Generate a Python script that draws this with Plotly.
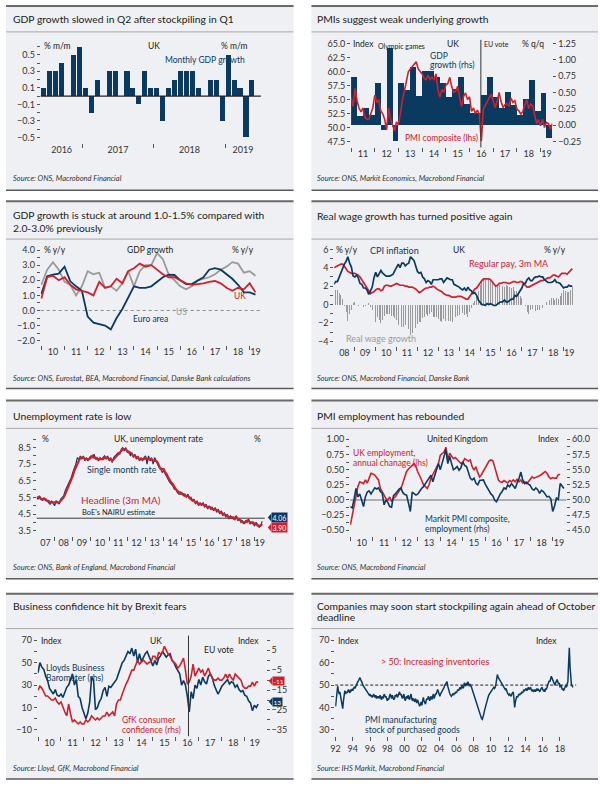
import plotly.graph_objects as go

# ======================= DATA =======================
# Panel 1: UK monthly GDP growth (% m/m), Jun 2016 - Jun 2019
gdp_mm_start = (2016, 6)
gdp_mm = [0.1, 0.3, 0.3, 0.4, 0.0, 0.5, 0.6, 0.1, -0.2, 0.2, 0.0, 0.3, 0.3, 0.0, 0.3, 0.1,
          -0.1, 0.3, 0.1, 0.1, -0.3, 0.1, 0.2, 0.3, 0.3, 0.3, 0.1, 0.0, 0.2, 0.2, -0.3, 0.5,
          0.2, 0.1, -0.5, 0.2, 0.0]

# Panel 2: UK GDP growth % q/q (rhs), 2011Q1 - 2019Q2 ; PMI composite (lhs), Jan 2011 - Jul 2019
gdp_qq_start = (2011, 1)
gdp_qq = [0.74, 0.14, 0.26, 0.15, 0.64, -0.07, 1.18, -0.24, 0.64, 0.54, 0.89, 0.45,
          0.83, 0.83, 0.74, 0.65, 0.43, 0.55, 0.74, 0.32, 0.18, 0.18, 0.46, 0.74,
          0.43, 0.26, 0.51, 0.30, 0.15, 0.40, 0.69, 0.22, 0.49, -0.19]
pmi_comp_start = (2011, 1)
pmi_comp = [55.5, 53.8, 57.0, 54.8, 53.5, 52.8, 53.5, 51.8, 51.5, 51.5, 52.5, 53.5,
            55.8, 54.5, 55.0, 53.0, 52.5, 51.5, 49.6, 53.5, 51.5, 50.3, 49.4, 51.0,
            50.5, 52.5, 55.0, 56.5, 58.5, 60.0, 60.5, 61.0, 61.5, 61.8, 60.5, 60.0,
            59.6, 58.8, 58.6, 59.4, 58.6, 59.0, 58.6, 59.6, 56.8, 55.4, 56.8, 56.3,
            57.6, 57.9, 59.0, 57.3, 56.3, 56.5, 57.4, 55.4, 53.8, 55.6, 56.2, 55.0,
            55.5, 52.9, 53.5, 52.5, 53.1, 52.4, 47.6, 53.3, 53.9, 54.7, 55.3, 56.0,
            55.0, 53.6, 54.6, 56.3, 54.6, 53.6, 54.1, 54.3, 53.8, 55.3, 54.5, 54.8,
            53.3, 53.0, 52.4, 52.9, 54.0, 55.0, 53.4, 54.2, 53.9, 52.1, 50.7, 51.4,
            50.3, 51.5, 50.0, 50.9, 50.7, 49.7, 50.7]
eu_vote = 2016.48

# Panel 3: GDP growth % y/y, 2010Q1 - 2019Q2
gdp_yy_start = (2010, 1)
gdp_yy_uk = [0.8, 2.2, 2.3, 2.0, 2.2, 1.7, 1.4, 1.3, 1.2, 1.0, 1.9, 1.5, 1.6, 2.1, 1.8, 2.6,
             2.8, 3.1, 2.9, 3.0, 2.7, 2.4, 2.2, 2.2, 2.0, 1.8, 1.7, 1.75, 1.8, 1.9, 1.95, 1.8,
             1.5, 1.3, 1.5, 1.4, 1.8, 1.2]
gdp_yy_ea = [1.1, 2.26, 2.37, 2.44, 2.9, 1.93, 1.6, 1.3, -0.4, -0.8, -0.9, -1.0, -1.25, -0.5,
             0.1, 0.8, 1.6, 1.5, 1.5, 1.6, 1.9, 2.2, 2.37, 2.35, 2.0, 1.75, 1.75, 1.95, 2.2,
             2.7, 2.8, 2.7, 2.4, 2.1, 1.7, 1.2, 1.2, 1.05]
gdp_yy_us = [1.7, 2.7, 3.2, 2.7, 1.9, 1.7, 1.0, 1.6, 2.6, 2.4, 2.5, 1.5, 1.6, 1.3, 1.8, 2.6,
             1.6, 2.6, 3.0, 3.0, 3.8, 3.4, 2.4, 2.0, 1.6, 1.4, 1.6, 2.0, 2.1, 2.2, 2.4, 2.7,
             2.9, 3.2, 3.1, 2.5, 2.6, 2.3]

# Panel 4: UK CPI, regular pay (3m MA), real wage growth, % y/y, Jan 2008 - Jun 2019
wage_start = (2008, 1)
cpi = [2.2, 2.5, 2.5, 3.0, 3.3, 3.8, 4.4, 4.7, 5.2, 4.5, 4.1, 3.1,
       3.0, 3.2, 2.9, 2.3, 2.2, 1.8, 1.8, 1.6, 1.1, 1.5, 1.9, 2.9,
       3.5, 3.0, 3.4, 3.7, 3.4, 3.2, 3.1, 3.1, 3.1, 3.2, 3.3, 3.7,
       4.0, 4.4, 4.0, 4.5, 4.5, 4.2, 4.4, 4.5, 5.2, 5.0, 4.8, 4.2,
       3.6, 3.4, 3.5, 3.0, 2.8, 2.4, 2.6, 2.5, 2.2, 2.7, 2.7, 2.7,
       2.7, 2.8, 2.8, 2.4, 2.7, 2.9, 2.8, 2.7, 2.7, 2.2, 2.1, 2.0,
       1.9, 1.7, 1.6, 1.8, 1.5, 1.9, 1.6, 1.5, 1.2, 1.3, 1.0, 0.5,
       0.3, 0.0, 0.0, -0.1, 0.1, 0.0, 0.1, 0.0, -0.1, -0.1, 0.1, 0.2,
       0.3, 0.3, 0.5, 0.3, 0.3, 0.5, 0.6, 0.6, 1.0, 0.9, 1.2, 1.6,
       1.8, 2.3, 2.3, 2.7, 2.9, 2.6, 2.6, 2.9, 3.0, 3.0, 3.1, 3.0,
       3.0, 2.7, 2.5, 2.4, 2.4, 2.4, 2.5, 2.7, 2.4, 2.4, 2.3, 2.1,
       1.8, 1.9, 1.9, 2.1, 2.0, 2.0]
regular_pay = [4.0, 4.1, 4.2, 4.3, 4.4, 4.4, 4.2, 3.9, 3.6, 3.5, 3.4, 3.4,
               3.4, 3.3, 3.2, 3.0, 2.7, 2.4, 2.2, 1.9, 1.5, 1.2, 1.3, 1.4,
               1.6, 1.7, 1.7, 1.5, 1.6, 2.0, 2.1, 2.1, 2.0, 2.0, 2.1, 2.2,
               2.3, 2.2, 2.1, 2.1, 2.1, 2.0, 2.0, 1.9, 1.9, 1.9, 1.8, 1.7,
               1.5, 1.3, 1.4, 1.6, 1.7, 1.8, 1.8, 1.9, 1.9, 2.0, 1.9, 1.7,
               1.6, 1.5, 1.4, 1.2, 1.1, 1.0, 1.0, 0.9, 0.8, 0.8, 0.8, 0.9,
               0.9, 0.9, 0.8, 0.7, 0.6, 0.6, 0.9, 1.2, 1.5, 1.7, 1.8, 2.1,
               2.4, 2.6, 2.8, 2.8, 2.8, 2.8, 2.7, 2.5, 2.2, 2.0, 2.1, 2.3,
               2.3, 2.4, 2.4, 2.4, 2.3, 2.3, 2.4, 2.5, 2.5, 2.4, 2.4, 2.5,
               2.5, 2.3, 2.1, 1.9, 1.9, 2.0, 2.1, 2.2, 2.3, 2.4, 2.5, 2.6,
               2.6, 2.7, 2.8, 2.9, 2.9, 3.1, 3.2, 3.2, 3.1, 3.0, 3.2, 3.4,
               3.4, 3.4, 3.3, 3.5, 3.6, 3.9]
real_wage = [1.8, 1.6, 1.6, 1.3, 1.0, 0.6, -0.2, -0.8, -1.8, -1.0, -0.6, 0.2,
             0.3, 0.0, -0.2, 0.1, -0.1, -0.3, -0.2, 0.2, 0.2, -0.3, -0.6, -1.5,
             -1.9, -1.3, -1.7, -2.0, -1.7, -1.2, -1.0, -1.0, -1.0, -1.2, -1.2, -1.5,
             -1.7, -2.2, -1.9, -2.4, -2.4, -2.2, -2.4, -2.6, -3.3, -3.1, -3.0, -2.5,
             -2.1, -1.9, -1.9, -1.5, -1.3, -1.0, -1.2, -1.0, -0.8, -1.3, -1.3, -1.4,
             -1.6, -1.8, -1.9, -1.6, -1.8, -2.0, -1.8, -1.8, -1.9, -1.4, -1.3, -1.2,
             -1.1, -0.9, -0.9, -1.1, -1.0, -1.4, -0.8, -0.4, 0.2, 0.4, 0.8, 1.5,
             2.1, 2.6, 2.8, 2.9, 2.7, 2.8, 2.6, 2.5, 2.3, 2.1, 2.0, 2.1,
             2.0, 2.0, 1.9, 2.1, 2.0, 1.9, 1.8, 1.9, 1.5, 1.5, 1.2, 0.9,
             0.7, 0.0, -0.2, -0.8, -1.0, -0.6, -0.5, -0.7, -0.7, -0.6, -0.6, -0.4,
             -0.4, 0.0, 0.3, 0.5, 0.5, 0.7, 0.7, 0.5, 0.7, 0.6, 0.9, 1.3,
             1.6, 1.5, 1.4, 1.4, 1.6, 1.9]

# Panel 5: UK unemployment rate %, Jan 2007 - Jun 2019
unemp_start = (2007, 1)
unemp_headline = [5.5, 5.5, 5.5, 5.4, 5.4, 5.4, 5.4, 5.3, 5.3, 5.2, 5.2, 5.2,
                  5.2, 5.2, 5.2, 5.2, 5.3, 5.4, 5.5, 5.7, 5.9, 6.1, 6.3, 6.5,
                  6.8, 7.1, 7.3, 7.6, 7.8, 7.9, 7.9, 7.9, 7.8, 7.8, 7.8, 7.8,
                  7.9, 8.0, 7.9, 7.9, 7.8, 7.8, 7.8, 7.8, 7.8, 7.9, 7.9, 7.9,
                  7.8, 7.8, 7.7, 7.8, 7.9, 8.0, 8.1, 8.2, 8.3, 8.4, 8.4, 8.4,
                  8.3, 8.2, 8.2, 8.1, 8.0, 8.0, 7.9, 7.9, 7.8, 7.8, 7.8, 7.8,
                  7.9, 7.8, 7.8, 7.8, 7.8, 7.7, 7.7, 7.7, 7.6, 7.4, 7.2, 7.2,
                  7.2, 7.0, 6.9, 6.7, 6.5, 6.4, 6.3, 6.1, 6.0, 5.9, 5.8, 5.8,
                  5.7, 5.7, 5.6, 5.6, 5.6, 5.5, 5.4, 5.3, 5.3, 5.2, 5.2, 5.1,
                  5.1, 5.1, 5.1, 5.0, 5.0, 4.9, 4.9, 4.9, 4.8, 4.8, 4.8, 4.7,
                  4.7, 4.6, 4.6, 4.5, 4.5, 4.4, 4.4, 4.3, 4.3, 4.3, 4.3, 4.2,
                  4.3, 4.2, 4.2, 4.1, 4.0, 4.0, 4.0, 4.1, 4.1, 4.0, 4.0, 4.0,
                  3.9, 3.9, 3.8, 3.8, 3.8, 3.9]
unemp_single = [5.5, 5.4, 5.6, 5.4, 5.3, 5.5, 5.3, 5.3, 5.2, 5.1, 5.3, 5.1,
                5.0, 5.3, 5.2, 5.1, 5.4, 5.5, 5.6, 5.9, 6.1, 6.2, 6.4, 6.7,
                7.0, 7.2, 7.5, 7.9, 7.8, 8.0, 7.8, 8.0, 7.7, 7.9, 7.7, 7.9,
                8.0, 7.9, 8.1, 7.8, 7.9, 7.7, 7.9, 7.8, 7.9, 8.0, 7.8, 8.0,
                7.7, 7.9, 7.6, 7.9, 8.0, 8.1, 8.2, 8.1, 8.4, 8.5, 8.3, 8.5,
                8.2, 8.3, 8.0, 8.2, 7.9, 8.1, 7.8, 8.0, 7.7, 7.9, 7.7, 7.9,
                8.0, 7.5, 8.0, 7.7, 7.9, 7.5, 7.9, 7.7, 7.5, 7.3, 7.3, 7.0,
                7.1, 6.9, 6.8, 6.6, 6.4, 6.3, 6.2, 6.0, 6.0, 5.8, 5.7, 5.7,
                5.8, 5.6, 5.7, 5.5, 5.7, 5.4, 5.5, 5.3, 5.4, 5.1, 5.3, 5.0,
                5.2, 5.0, 5.2, 4.9, 5.1, 4.8, 5.0, 4.8, 4.9, 4.7, 4.9, 4.6,
                4.8, 4.5, 4.7, 4.4, 4.6, 4.3, 4.5, 4.2, 4.4, 4.3, 4.2, 4.3,
                4.4, 4.1, 4.2, 4.0, 4.1, 3.9, 4.1, 4.0, 4.2, 3.9, 4.0, 3.9,
                3.8, 4.0, 3.8, 3.7, 3.8, 4.06]
nairu = 4.25
unemp_last_labels = ["4.06", "3.90"]

# Panel 6: UK employment annual change (lhs), Jan 2010 - May 2019; PMI employment (rhs), Jan 2010 - Jul 2019
emp_start = (2010, 1)
emp_change = [-0.41, -0.25, -0.08, 0.1, 0.22, 0.30, 0.29, 0.27, 0.33, 0.28, 0.36, 0.44,
              0.43, 0.41, 0.37, 0.33, 0.19, 0.12, 0.08, 0.02, 0.0, 0.05, -0.03, 0.03,
              0.05, 0.1, 0.15, 0.19, 0.28, 0.38, 0.47, 0.51, 0.55, 0.57, 0.6, 0.55,
              0.46, 0.4, 0.33, 0.25, 0.22, 0.19, 0.25, 0.36, 0.42, 0.49, 0.55, 0.6,
              0.74, 0.76, 0.79, 0.87, 0.66, 0.77, 0.72, 0.68, 0.7, 0.66, 0.62, 0.6,
              0.62, 0.68, 0.66, 0.64, 0.66, 0.55, 0.49, 0.55, 0.45, 0.38, 0.42, 0.48,
              0.52, 0.58, 0.64, 0.66, 0.65, 0.55, 0.42, 0.33, 0.3, 0.29, 0.32, 0.3,
              0.28, 0.32, 0.3, 0.33, 0.3, 0.34, 0.3, 0.33, 0.28, 0.3, 0.27, 0.3,
              0.34, 0.38, 0.36, 0.37, 0.38, 0.4, 0.42, 0.45, 0.47, 0.44, 0.38, 0.35,
              0.37, 0.36, 0.36, 0.42, 0.42]
pmi_emp = [48.9, 48.7, 50.2, 51.9, 50.5, 51.0, 50.0, 48.9, 50.5, 51.3, 51.5, 51.0,
           51.5, 52.0, 51.8, 52.0, 51.4, 51.1, 49.2, 50.0, 49.6, 48.9, 48.8, 50.7,
           51.0, 51.5, 51.8, 52.0, 51.2, 50.9, 50.8, 49.5, 48.1, 51.3, 51.0, 50.8,
           51.0, 51.5, 51.9, 52.2, 52.7, 53.0, 53.5, 54.1, 53.0, 54.0, 55.2, 56.0,
           55.0, 56.2, 57.0, 58.3, 56.0, 57.2, 56.0, 55.0, 55.2, 55.5, 54.9, 55.3,
           56.3, 55.7, 55.5, 54.4, 53.6, 53.3, 53.6, 52.8, 52.5, 53.2, 53.3, 53.3,
           52.6, 52.0, 51.4, 51.0, 50.7, 50.0, 49.7, 50.4, 51.0, 51.4, 52.0, 51.8,
           52.5, 52.2, 52.7, 52.3, 51.9, 52.8, 53.5, 54.6, 53.3, 52.7, 52.9, 52.6,
           52.4, 51.8, 51.6, 52.0, 51.7, 51.1, 51.6, 51.4, 51.0, 50.5, 50.6, 50.2,
           48.1, 49.0, 50.3, 50.1, 52.7, 52.3, 51.9]

# Panel 7: Lloyds Business Barometer (lhs) and GfK consumer confidence (rhs), Jan 2010 - Aug 2019
conf_start = (2010, 1)
lloyds = [41, 50, 46, 44, 38, 34, 27, 25, 22, 26, 21, 20,
          22, 19, 23, 28, 30, 36, 40, 30, 35, 20, 18, 10,
          5, 0, 5, 15, 37, 34, 8, 10, 15, 18, 25, 28,
          20, 29, 28, 30, 32, 35, 40, 45, 50, 52, 57, 60,
          58, 63, 56, 62, 50, 58, 51, 55, 58, 60, 55, 51,
          47, 52, 48, 54, 56, 60, 58, 55, 57, 58, 52, 50,
          46, 43, 40, 30, 34, 30, 20, 6, 24, 18, 30, 27,
          35, 30, 37, 33, 31, 38, 40, 37, 30, 26, 22, 25,
          29, 31, 33, 35, 31, 33, 32, 28, 30, 26, 24, 25,
          21, 20, 16, 14, 7, 12, 10, 13]
gfk = [-15, -13, -14, -16, -18, -18, -19, -20, -20, -19, -21, -22,
       -21, -24, -26, -28, -22, -27, -31, -30, -31, -32, -31, -32,
       -32, -30, -31, -30, -28, -29, -30, -29, -30, -29, -28, -28,
       -26, -28, -27, -26, -28, -22, -20, -20, -17, -14, -12, -10,
       -7, -5, -5, -2, 0, -2, -1, 0, -1, -2, -1, -1,
       2, 2, 0, 4, 3, 4, 7, 5, 3, 2, 0, -1,
       -2, -4, -3, -1, 1, -5, -12, -11, -8, -2, -8, -6,
       -4, -6, -5, -8, -6, -4, -7, -9, -10, -10, -9, -10,
       -10, -9, -7, -9, -7, -9, -10, -7, -8, -9, -10, -13,
       -14, -14, -13, -13, -11, -13, -11, -11]
conf_last_labels = ["-11", "13"]

# Panel 8: PMI manufacturing stocks of purchases, Jan 1992 - Jul 2019
stock_start = (1992, 1)
pmi_stocks = [40.5, 44, 47, 49.5, 47.5, 46, 47, 45, 43, 41, 39.5, 43,
              46, 47.5, 46, 47, 46.5, 47.5, 48, 47, 46.5, 48, 47.5, 48,
              47.5, 48.5, 49, 48.5, 49.5, 50, 51, 51.5, 52, 52.5, 53.3, 52.5,
              52, 51, 50, 49.5, 49, 48.5, 48, 47.5, 47, 46.5, 46, 45.5,
              46, 45, 45.5, 44.5, 45, 46, 45, 44.5, 45.5, 44, 45, 44.5,
              45, 44, 45.5, 44.5, 43.5, 45, 44, 45.5, 46, 44.5, 45, 44,
              43, 44, 43.5, 45, 46, 45, 44, 45.5, 44.5, 43.5, 44, 45.5,
              45, 46, 44.5, 45.5, 46, 47, 45.5, 46, 45, 44, 45, 46,
              44, 43, 44.5, 45, 44, 45.5, 44, 43.5, 45, 46, 44, 43,
              44, 43, 42.5, 44, 43, 42, 43.5, 42, 41, 40.5, 41.5, 42.5,
              41, 43, 44.5, 43, 42, 41.5, 43, 44, 43.5, 45, 44, 43,
              44.5, 45, 43.5, 45, 46, 44, 45.5, 46, 46, 47, 48, 47,
              45.5, 45, 46, 46.5, 47, 47.5, 48.5, 49, 50, 50.5, 51, 51.5,
              49.5, 48, 47, 46, 45.5, 45, 45.5, 46, 45.5, 46.5, 46, 47,
              46.5, 47, 48, 47.5, 48.5, 49, 48, 49.5, 50, 48.5, 49, 51,
              50.5, 49.5, 51, 50, 51.5, 50, 49.5, 50.5, 50, 49, 48, 47,
              46, 45.5, 44, 43, 42, 41.5, 40, 39, 37.5, 36.5, 35.5, 35,
              34.7, 35.5, 37, 38.5, 40, 41.5, 42.5, 43, 44.5, 45.5, 46, 46.5,
              47, 47.5, 48, 48.5, 49, 48.5, 49, 50.5, 52, 54.7, 53.5, 53,
              52, 51.5, 51, 50.5, 50, 49.5, 49, 48.5, 48, 48.5, 47, 46.5,
              46, 45.5, 46, 45, 45, 46, 46.5, 47, 44, 40, 42.5, 44,
              45, 44.5, 45.5, 46, 45.5, 46.5, 46, 47, 46.5, 47, 48, 47.5,
              48, 48.5, 47.5, 48.5, 49, 48, 48.5, 49, 48, 47.5, 48, 47,
              47.5, 48, 47, 48, 48.5, 47.5, 48, 47.5, 47, 48, 48.5, 49,
              48, 47.5, 48, 47, 48.5, 48, 49, 50, 51, 52, 51.5, 53,
              54, 53, 52, 51, 50.5, 50, 51, 52, 52.5, 51.5, 50.5, 51,
              49, 50, 49.5, 48, 48.5, 47.5, 48, 49, 50, 49, 50.5, 51.5,
              60, 66.6, 58, 52, 50, 49.5, 49]
stock_threshold = 50

# ======================= STYLE / HELPERS =======================
FONT = "Lato, 'Open Sans', sans-serif"
NAVY = "#0b3a60"
RED = "#d0202e"
GREY = "#9a9a9a"
TXT = "#222222"
TICKC = "#555555"
PANEL_BG = "#eef0f3"
W, H = 600, 787


def fx(px):
    return px / W


def fy(py):
    return 1 - py / H


def lin(v1, p1, v2, p2, pa, pb):
    s = (v2 - v1) / (p2 - p1)
    return [v1 + (pa - p1) * s, v1 + (pb - p1) * s]


def monthly(start, n, off=0.0):
    return [start[0] + (start[1] - 1 + i) / 12 + off for i in range(n)]


def quarterly(start, n, off=0.0):
    return [start[0] + (start[1] - 1 + i) / 4 + off for i in range(n)]


def xn(p):
    return 'x' if p == 1 else f'x{p}'


def yn(k):
    return 'y' if k == 1 else f'y{k}'


def xkey(p):
    return 'xaxis' if p == 1 else f'xaxis{p}'


def ykey(k):
    return 'yaxis' if k == 1 else f'yaxis{k}'


TF = dict(family=FONT, size=9, color="#333333")

fig = go.Figure()
lay = dict(width=W, height=H, margin=dict(l=0, r=0, t=0, b=0), paper_bgcolor='white',
           plot_bgcolor='rgba(0,0,0,0)', showlegend=False, bargap=0,
           font=dict(family=FONT, size=9, color="#333333"))
shapes = []
anns = []


def set_axes(p, xdom, xrng, xlab, xtxt, xticks, ydom, base, over, xmajor_ticks=False):
    kb, ko = 2 * p - 1, 2 * p
    xa = dict(domain=[fx(xdom[0]), fx(xdom[1])], range=xrng, anchor=yn(kb), tickmode='array',
              tickvals=xlab, ticktext=xtxt, ticks='outside' if xmajor_ticks else '',
              ticklen=4, tickcolor=TICKC, tickwidth=1, showgrid=False, zeroline=False,
              showline=False, tickfont=TF, fixedrange=True)
    if xticks:
        xa['minor'] = dict(tickmode='array', tickvals=xticks, ticks='outside', ticklen=4,
                           tickwidth=1, tickcolor=TICKC, showgrid=False)
    lay[xkey(p)] = xa
    for k, spec, ov in ((kb, base, None), (ko, over, yn(kb))):
        ya = dict(range=spec['range'], tickmode='array', tickvals=spec['vals'],
                  ticktext=spec['text'], ticks='outside', ticklen=3, tickwidth=1,
                  tickcolor=TICKC, tickfont=TF, showgrid=False, zeroline=False,
                  showline=False, side=spec['side'], anchor=xn(p), fixedrange=True)
        if ov:
            ya['overlaying'] = ov
        else:
            ya['domain'] = [fy(ydom[1]), fy(ydom[0])]
        lay[ykey(k)] = ya


def txt(x, y, s, color=TXT, size=8.5, anchor='left'):
    anns.append(dict(x=fx(x), y=fy(y), xref='paper', yref='paper', text=s, showarrow=False,
                     xanchor=anchor, yanchor='middle', align=anchor, borderpad=0,
                     font=dict(family=FONT, size=size, color=color)))


def panel(x0, x1, top, sep, bot):
    shapes.append(dict(type='rect', xref='paper', yref='paper', x0=fx(x0), x1=fx(x1),
                       y0=fy(bot), y1=fy(top), fillcolor=PANEL_BG, line=dict(width=0),
                       layer='below'))
    shapes.append(dict(type='line', xref='paper', yref='paper', x0=fx(x0), x1=fx(x1),
                       y0=fy(top), y1=fy(top), line=dict(color='#6a6a6a', width=2)))
    shapes.append(dict(type='line', xref='paper', yref='paper', x0=fx(x0), x1=fx(x1),
                       y0=fy(sep), y1=fy(sep), line=dict(color='#a8a8a8', width=1)))
    shapes.append(dict(type='line', xref='paper', yref='paper', x0=fx(x0), x1=fx(x1),
                       y0=fy(bot), y1=fy(bot), line=dict(color='#5a5a5a', width=1.5)))


def tag(xl, yc, s, color, size=7):
    anns.append(dict(x=fx(xl + 3), y=fy(yc), xref='paper', yref='paper', text=s,
                     showarrow=False, xanchor='left', yanchor='middle', bgcolor=color,
                     borderpad=0.5, font=dict(family=FONT, size=size, color='white')))
    shapes.append(dict(type='path', xref='paper', yref='paper',
                       path=f"M {fx(xl)} {fy(yc)} L {fx(xl + 3.5)} {fy(yc - 4)} L {fx(xl + 3.5)} {fy(yc + 4)} Z",
                       fillcolor=color, line=dict(width=0)))


def source(x, y, s):
    txt(x, y, f"<i>{s}</i>", color="#333333", size=7.5)


LX0, LX1, RX0, RX1 = 1, 291, 309, 598
ROWS = [(4, 30, 189), (200, 238, 388), (400, 428, 579), (594, 629, 780)]
for (t, s, b) in ROWS:
    panel(LX0, LX1, t, s, b)
    panel(RX0, RX1, t, s, b)

TITLE = 10.3
LAB = 8.5

# ---------------- Panel 1 ----------------
p1_yt = [-0.5, -0.4, -0.3, -0.2, -0.1, 0.0, 0.1, 0.2, 0.3, 0.4, 0.5, 0.6]
p1_yl = ["−0.5", "", "−0.3", "", "−0.1", "", "0.1", "", "0.3", "", "0.5", ""]
r = lin(0.5, 53, -0.5, 136, 142, 40)
set_axes(1, [36, 258], [2016 + 5 / 12, 2019.5],
         [2016.71, 2017.5, 2018.5, 2019.25], ["2016", "2017", "2018", "2019"], [2017, 2018, 2019],
         [40, 142], dict(range=r, vals=p1_yt, text=p1_yl, side='left'),
         dict(range=r, vals=p1_yt, text=p1_yl, side='right'))
fig.add_trace(go.Bar(x=monthly(gdp_mm_start, len(gdp_mm), 1 / 24), y=gdp_mm, width=0.86 / 12,
                     marker=dict(color=NAVY, line=dict(width=0)), xaxis='x', yaxis='y'))
shapes.append(dict(type='line', xref='x domain', yref='y', x0=0, x1=1, y0=0, y1=0,
                   line=dict(color='#222222', width=1.3)))
txt(7, 17, "GDP growth slowed in Q2 after stockpiling in Q1", size=TITLE)
txt(38, 44, "% m/m")
txt(150, 44, "UK", anchor='center')
txt(246, 44, "% m/m", anchor='right')
txt(160, 58, "Monthly GDP growth", color=NAVY)
source(7, 177, "Source: ONS, Macrobond Financial")

# ---------------- Panel 2 ----------------
p2_lt = [47.5, 50, 52.5, 55, 57.5, 60, 62.5, 65]
p2_ll = ["47.5", "50.0", "52.5", "55.0", "57.5", "60.0", "62.5", "65.0"]
p2_rt = [-0.25, 0, 0.25, 0.5, 0.75, 1.0, 1.25]
p2_rl = ["−0.25", "0.00", "0.25", "0.50", "0.75", "1.00", "1.25"]
set_axes(2, [349, 552], [2011.0, 2019.5],
         [2011.5 + i for i in range(8)] + [2019.25], ["11", "12", "13", "14", "15", "16", "17", "18", "19"],
         [2011 + i for i in range(9)], [38, 146],
         dict(range=lin(1.25, 41.5, -0.25, 140, 146, 38), vals=p2_rt, text=p2_rl, side='right'),
         dict(range=lin(65, 42, 47.5, 140, 146, 38), vals=p2_lt, text=p2_ll, side='left'))
fig.add_trace(go.Bar(x=quarterly(gdp_qq_start, len(gdp_qq), 1 / 8), y=gdp_qq, width=0.25,
                     marker=dict(color=NAVY, line=dict(width=0)), xaxis='x2', yaxis='y3'))
fig.add_trace(go.Scatter(x=monthly(pmi_comp_start, len(pmi_comp)), y=pmi_comp, mode='lines',
                         line=dict(color=RED, width=1.6), xaxis='x2', yaxis='y4'))
shapes.append(dict(type='line', xref='x2', yref='y3 domain', x0=eu_vote, x1=eu_vote, y0=0, y1=1,
                   line=dict(color='#333333', width=1)))
txt(314, 17, "PMIs suggest weak underlying growth", size=TITLE)
txt(350, 42, "Index")
txt(375, 44, "Olympic games", size=7)
txt(452, 42, "UK", anchor='center')
txt(482, 42, "EU vote", size=7)
txt(545, 42, "% q/q", anchor='right')
txt(428, 54, "GDP", color=NAVY)
txt(428, 63.5, "growth (rhs)", color=NAVY)
txt(402, 137, "PMI composite (lhs)", color=RED)
source(314, 177, "Source: ONS, Markit Economics, Macrobond Financial")

# ---------------- Panel 3 ----------------
p3_t = [-2.0, -1.5, -1.0, -0.5, 0.0, 0.5, 1.0, 1.5, 2.0, 2.5, 3.0, 3.5, 4.0]
p3_l = ["−2.0", "", "−1.0", "", "0.0", "", "1.0", "", "2.0", "", "3.0", "", "4.0"]
r = lin(4, 249, -2, 340, 344, 244)
set_axes(3, [36, 258], lin(2010, 36.7, 2019, 246.7, 36, 258),
         [2010.5 + i for i in range(9)] + [2019.25],
         ["10", "11", "12", "13", "14", "15", "16", "17", "18", "19"],
         [2010 + i for i in range(10)], [244, 344],
         dict(range=r, vals=p3_t, text=p3_l, side='left'),
         dict(range=r, vals=p3_t, text=p3_l, side='right'))
xq = quarterly(gdp_yy_start, len(gdp_yy_uk))
shapes.append(dict(type='line', xref='x3 domain', yref='y5', x0=0, x1=1, y0=0, y1=0,
                   line=dict(color='#8a8a8a', width=1, dash='dot'), layer='below'))
fig.add_trace(go.Scatter(x=xq, y=gdp_yy_us, mode='lines', line=dict(color=GREY, width=1.8),
                         xaxis='x3', yaxis='y5'))
fig.add_trace(go.Scatter(x=xq, y=gdp_yy_ea, mode='lines', line=dict(color=NAVY, width=1.8),
                         xaxis='x3', yaxis='y5'))
fig.add_trace(go.Scatter(x=xq, y=gdp_yy_uk, mode='lines', line=dict(color=RED, width=1.8),
                         xaxis='x3', yaxis='y5'))
txt(7, 214, "GDP growth is stuck at around 1.0-1.5% compared with", size=TITLE)
txt(7, 227, "2.0-3.0% previously", size=TITLE)
txt(38, 249, "% y/y")
txt(147, 249, "GDP growth", anchor='center')
txt(252, 249, "% y/y", anchor='right')
txt(237, 295, "UK", color=RED, anchor='center')
txt(147, 318, "Euro area", color=NAVY, anchor='center')
txt(178, 311, "US", color=GREY, anchor='center')
source(7, 378, "Source: ONS, Eurostat, BEA, Macrobond Financial, Danske Bank calculations")

# ---------------- Panel 4 ----------------
p4_t = [-4, -3, -2, -1, 0, 1, 2, 3, 4, 5, 6]
p4_l = ["−4", "", "−2", "", "0", "", "2", "", "4", "", "6"]
r = lin(6, 248.3, -4, 340.7, 345, 244)
set_axes(4, [332, 576], lin(2008, 331.7, 2019, 563.3, 332, 576),
         [2008.5 + i for i in range(11)] + [2019.27],
         ["08", "09", "10", "11", "12", "13", "14", "15", "16", "17", "18", "19"],
         [2008 + i for i in range(12)], [244, 345],
         dict(range=r, vals=p4_t, text=p4_l, side='left'),
         dict(range=r, vals=p4_t, text=p4_l, side='right'))
xm = monthly(wage_start, len(cpi))
fig.add_trace(go.Bar(x=xm, y=real_wage, width=0.5 / 12, marker=dict(color=GREY, line=dict(width=0)),
                     xaxis='x4', yaxis='y7'))
fig.add_trace(go.Scatter(x=xm, y=regular_pay, mode='lines', line=dict(color=RED, width=1.7),
                         xaxis='x4', yaxis='y7'))
fig.add_trace(go.Scatter(x=xm, y=cpi, mode='lines', line=dict(color=NAVY, width=1.7),
                         xaxis='x4', yaxis='y7'))
txt(314, 215, "Real wage growth has turned positive again", size=TITLE)
txt(333, 249, "% y/y")
txt(367, 249, "CPI inflation", color=NAVY, size=9)
txt(458, 249, "UK", anchor='center')
txt(567, 249, "% y/y", anchor='right')
txt(467, 263, "Regular pay, 3m MA", color=RED, size=9)
txt(343, 338, "Real wage growth", color=GREY, size=9)
source(314, 378, "Source: ONS, Macrobond Financial, Danske Bank")

# ---------------- Panel 5 ----------------
p5_t = [3.5, 4.0, 4.5, 5.0, 5.5, 6.0, 6.5, 7.0, 7.5, 8.0, 8.5, 9.0]
p5_l = ["3.5", "", "4.5", "", "5.5", "", "6.5", "", "7.5", "", "8.5", ""]
r = lin(8.5, 447.3, 3.5, 530.7, 536, 435)
set_axes(5, [32, 262], lin(2007, 31.7, 2019, 251.7, 32, 262),
         [2007.5 + i for i in range(12)] + [2019.28],
         ["07", "08", "09", "10", "11", "12", "13", "14", "15", "16", "17", "18", "19"],
         [2007 + i for i in range(13)], [435, 536],
         dict(range=r, vals=p5_t, text=p5_l, side='left'),
         dict(range=r, vals=p5_t, text=p5_l, side='right'))
xm = monthly(unemp_start, len(unemp_headline))
shapes.append(dict(type='line', xref='x5 domain', yref='y9', x0=0, x1=1, y0=nairu, y1=nairu,
                   line=dict(color='#3a3a3a', width=1), layer='below'))
fig.add_trace(go.Scatter(x=xm, y=unemp_single, mode='lines', line=dict(color=NAVY, width=1.2),
                         xaxis='x5', yaxis='y9'))
fig.add_trace(go.Scatter(x=xm, y=unemp_headline, mode='lines', line=dict(color=RED, width=2.2),
                         xaxis='x5', yaxis='y9'))
txt(7, 416, "Unemployment rate is low", size=TITLE)
txt(36, 439, "%")
txt(155, 439, "UK, unemployment rate", anchor='center')
txt(259, 439, "%", anchor='right')
txt(82, 469, "Single month rate", color=NAVY, size=9)
txt(76, 500, "Headline (3m MA)", color=RED, size=10)
txt(77, 512, "BoE's NAIRU estimate", color=TXT, size=7.5)
tag(265, 517.5, unemp_last_labels[0], NAVY)
tag(265, 527.5, unemp_last_labels[1], RED)
source(7, 568, "Source: ONS, Bank of England, Macrobond Financial")

# ---------------- Panel 6 ----------------
p6_lt = [-0.5 + 0.125 * i for i in range(13)]
p6_ll = ["−0.50", "", "−0.25", "", "0.00", "", "0.25", "", "0.50", "", "0.75", "", "1.00"]
p6_rt = [45 + 1.25 * i for i in range(13)]
p6_rl = ["45.0", "", "47.5", "", "50.0", "", "52.5", "", "55.0", "", "57.5", "", "60.0"]
set_axes(6, [348, 566], lin(2010, 348.3, 2019, 552.3, 348, 566),
         [2010.5 + i for i in range(9)] + [2019.28],
         ["10", "11", "12", "13", "14", "15", "16", "17", "18", "19"],
         [2010 + i for i in range(10)], [434, 536],
         dict(range=lin(1.0, 439, -0.5, 530.3, 536, 434), vals=p6_lt, text=p6_ll, side='left'),
         dict(range=lin(60, 439, 45, 530.3, 536, 434), vals=p6_rt, text=p6_rl, side='right'))
shapes.append(dict(type='line', xref='x6 domain', yref='y11', x0=0, x1=1, y0=0, y1=0,
                   line=dict(color='#9a9a9a', width=1.5), layer='below'))
fig.add_trace(go.Scatter(x=monthly(emp_start, len(emp_change)), y=emp_change, mode='lines',
                         line=dict(color=RED, width=1.6), xaxis='x6', yaxis='y11'))
fig.add_trace(go.Scatter(x=monthly(emp_start, len(pmi_emp)), y=pmi_emp, mode='lines',
                         line=dict(color=NAVY, width=1.6), xaxis='x6', yaxis='y12'))
txt(314, 416, "PMI employment has rebounded", size=TITLE)
txt(456, 439, "United Kingdom", anchor='center')
txt(560, 439, "Index", anchor='right')
txt(350, 452.5, "UK employment,", color=RED, size=LAB)
txt(350, 463, "annual chanage (lhs)", color=RED, size=LAB)
txt(423, 518.5, "Markit PMI composite,", color=NAVY, size=LAB)
txt(423, 529, "employment (rhs)", color=NAVY, size=LAB)
source(314, 568, "Source: ONS, Macrobond Financial")

# ---------------- Panel 7 ----------------
p7_lt = [-10, 0, 10, 20, 30, 40, 50, 60, 70]
p7_ll = ["−10", "", "10", "", "30", "", "50", "", "70"]
p7_rt = [-35, -30, -25, -20, -15, -10, -5, 0, 5, 10]
p7_rl = ["−35", "", "−25", "", "−15", "", "−5", "", "5", ""]
set_axes(7, [33, 263], lin(2010, 33.3, 2019, 241.8, 33, 263),
         [2010.5 + i for i in range(9)] + [2019.43],
         ["10", "11", "12", "13", "14", "15", "16", "17", "18", "19"],
         [2010 + i for i in range(10)], [636, 737],
         dict(range=lin(70, 640.7, -10, 730.7, 737, 636), vals=p7_lt, text=p7_ll, side='left'),
         dict(range=lin(10, 640.7, -35, 730.7, 737, 636), vals=p7_rt, text=p7_rl, side='right'))
xm = monthly(conf_start, len(lloyds))
fig.add_trace(go.Scatter(x=xm, y=lloyds, mode='lines', line=dict(color=NAVY, width=1.6),
                         xaxis='x7', yaxis='y13'))
fig.add_trace(go.Scatter(x=xm, y=gfk, mode='lines', line=dict(color=RED, width=1.6),
                         xaxis='x7', yaxis='y14'))
shapes.append(dict(type='line', xref='x7', yref='y13 domain', x0=2016.55, x1=2016.55, y0=0, y1=1,
                   line=dict(color='#333333', width=1)))
txt(7, 606, "Business confidence hit by Brexit fears", size=TITLE)
txt(35, 641, "Index")
txt(152, 641, "UK", anchor='center')
txt(200, 650, "EU vote")
txt(257, 641, "Index", anchor='right')
txt(40, 668.5, "Lloyds Business", color=NAVY, size=LAB)
txt(40, 679, "Barometer (rhs)", color=NAVY, size=LAB)
txt(117, 720.5, "GfK consumer", color=RED, size=LAB)
txt(117, 731, "confidence (rhs)", color=RED, size=LAB)
tag(266, 681.5, conf_last_labels[0], RED, size=6.5)
tag(266, 702.5, conf_last_labels[1], NAVY, size=6.5)
source(7, 769, "Source: Lloyd, GfK, Macrobond Financial")

# ---------------- Panel 8 ----------------
p8_t = [30, 35, 40, 45, 50, 55, 60, 65, 70]
p8_l = ["30", "", "40", "", "50", "", "60", "", "70"]
r = lin(70, 640.7, 30, 730.7, 737, 636)
yrs8 = [1992 + 2 * i for i in range(14)]
set_axes(8, [333, 576], lin(1992, 333.3, 2019.5, 572.7, 333, 576),
         yrs8, [f"{y % 100:02d}" for y in yrs8], None, [636, 737],
         dict(range=r, vals=p8_t, text=p8_l, side='left'),
         dict(range=r, vals=p8_t, text=p8_l, side='right'), xmajor_ticks=True)
shapes.append(dict(type='line', xref='x8 domain', yref='y15', x0=0, x1=1, y0=stock_threshold,
                   y1=stock_threshold, line=dict(color='#222222', width=1, dash='3px,2px'),
                   layer='below'))
fig.add_trace(go.Scatter(x=monthly(stock_start, len(pmi_stocks)), y=pmi_stocks, mode='lines',
                         line=dict(color=NAVY, width=1.5), xaxis='x8', yaxis='y15'))
txt(314, 606, "Companies may soon start stockpiling again ahead of October", size=TITLE)
txt(314, 617.5, "deadline", size=TITLE)
txt(335, 641, "Index")
txt(558, 641, "Index", anchor='right')
txt(378, 662, "> 50: Increasing inventories", color=RED, size=9)
txt(362, 720.5, "PMI manufacturing", color=NAVY, size=LAB)
txt(362, 731, "stock of purchased goods", color=NAVY, size=LAB)
source(314, 769, "Source: IHS Markit, Macrobond Financial")

lay['shapes'] = shapes
lay['annotations'] = anns
fig.update_layout(**lay)
fig.write_html("out.html", config={'displayModeBar': False, 'staticPlot': True},
               post_script="document.body.style.margin='0';")
